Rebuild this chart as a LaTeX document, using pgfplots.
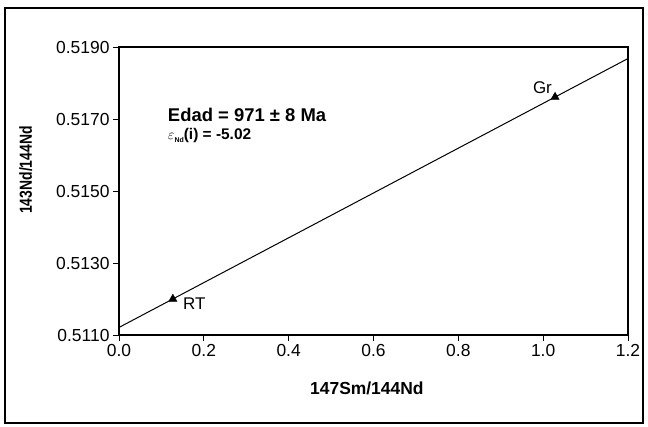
\documentclass[border=0pt]{standalone}
\usepackage{pgfplots}
\pgfplotsset{compat=1.18}
\usepackage{fontspec}
\setmainfont{Liberation Sans}
\begin{document}
\begin{tikzpicture}
\useasboundingbox (0bp,0bp) rectangle (648bp,427bp);
\draw[line width=1.6bp] (5bp,4bp) rectangle (643bp,419bp);
\begin{axis}[
  at={(119bp,92bp)}, anchor=south west,
  scale only axis, width=509bp, height=288bp,
  xmin=0, xmax=1.2, ymin=0.5110, ymax=0.5190,
  xtick={0,0.2,...,1.2},
  ytick={0.5110,0.5130,0.5150,0.5170,0.5190},
  axis line style={line width=1.1bp},
  tick style={black, line width=0.9bp},
  tick align=outside, major tick length=6bp,
  xtick pos=bottom, ytick pos=left,
  scaled y ticks=false, scaled x ticks=false,
  xticklabel={\pgfmathprintnumber[assume math mode=true,fixed,fixed zerofill,precision=1]{\tick}},
  yticklabel={\pgfmathprintnumber[assume math mode=true,fixed,fixed zerofill,precision=4]{\tick}},
  tick label style={font=\fontsize{17.5}{19}\selectfont},
  xlabel={\textbf{147Sm/144Nd}},
  ylabel={\scalebox{0.8}[1]{\textbf{143Nd/144Nd}}},
  label style={font=\fontsize{17.5}{19}\selectfont},
  xlabel style={at={(axis description cs:0.487,-0.184)}, anchor=center},
  ylabel style={at={(axis description cs:-0.183,0.573)}, anchor=center},
  clip=false,
]
\addplot[black, line width=1bp] coordinates {(0,0.51121) (1.2,0.51868)};
\addplot[only marks, mark=triangle*, mark size=4.8bp, black] coordinates {(0.127,0.51200) (1.028,0.51761)};
\node[anchor=north west, font=\fontsize{17}{19}\selectfont, inner sep=0pt] at (axis cs:0.151,0.51203) {RT};
\node[anchor=south east, font=\fontsize{17}{19}\selectfont, inner sep=0pt] at (axis cs:1.021,0.51769) {Gr};
\node[anchor=base west, font=\bfseries\fontsize{18.5}{20}\selectfont, inner sep=0pt] at (axis cs:0.115,0.51694) {Edad = 971 ± 8 Ma};
\node[anchor=base west, font=\bfseries\fontsize{15.5}{17}\selectfont, inner sep=0pt] at (axis cs:0.115,0.51642) {$\varepsilon$\raisebox{-0.3ex}{\fontsize{7}{8}\selectfont Nd}(i) = -5.02};
\end{axis}
\end{tikzpicture}
\end{document}
